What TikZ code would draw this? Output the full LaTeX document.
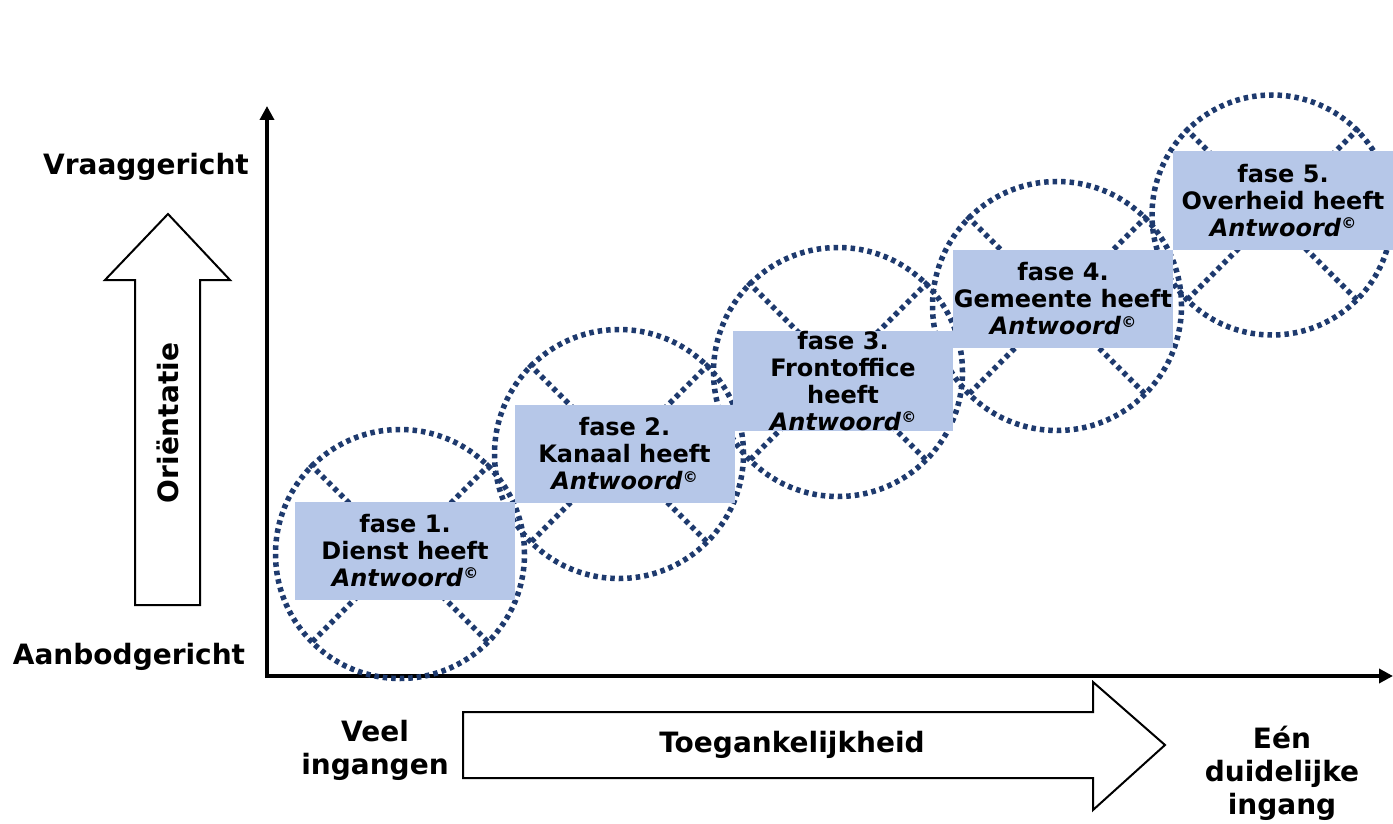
\documentclass[tikz,border=0pt]{standalone}
\usepackage{fontspec}
\setmainfont{DejaVu Sans}
\usetikzlibrary{arrows.meta}
\definecolor{dotblue}{RGB}{30,58,110}
\definecolor{boxblue}{RGB}{182,199,232}
\newcommand{\antw}{\textit{Antwoord}\raisebox{0.6ex}{\fontsize{15}{15}\selectfont ©}}

\begin{document}
\begin{tikzpicture}[x=1pt,y=-1pt,
  fase node/.style={rectangle, fill=boxblue, minimum width=220pt, minimum height=98pt, inner sep=0pt, align=center, font=\fontsize{24}{27}\selectfont\bfseries},
  ring node/.style={circle, draw=dotblue, line width=5.5pt, dash pattern=on 4.5pt off 4pt, minimum size=249pt, inner sep=0pt},
  ring cross/.style={draw=dotblue, line width=5.5pt, dash pattern=on 4.5pt off 4pt},
  side node/.style={align=center, font=\fontsize{28}{33}\selectfont\bfseries}]
  \useasboundingbox (0,0) rectangle (1393,824);

  % axes
  \coordinate (o) at (267,676);
  \coordinate (ytop) at (267,106);
  \coordinate (xend) at (1393,676);
  \draw[line width=4pt, {Triangle[length=14pt,width=14pt]}-{Triangle[length=14pt,width=14pt]}] (ytop) -- (o) -- (xend);

  % rings
  \node[ring node] (c1) at (400,554) {};
  \node[ring node] (c2) at (619,454) {};
  \node[ring node] (c3) at (838,372) {};
  \node[ring node] (c4) at (1057,306) {};
  \node[ring node, minimum size=240pt] (c5) at (1272,215) {};
  \foreach \i in {1,...,5}
    \path[ring cross] (c\i.45) -- (c\i.225) (c\i.135) -- (c\i.315);

  % phases
  \node[fase node] (f1) at (405,550.5) {fase 1.\\Dienst heeft\\\antw};
  \node[fase node] (f2) at (624.5,454) {fase 2.\\Kanaal heeft\\\antw};
  \node[fase node] (f3) at (843,381) {fase 3.\\Frontoffice\\heeft\\\antw};
  \node[fase node] (f4) at (1063,299) {fase 4.\\Gemeente heeft\\\antw};
  \node[fase node] (f5) at (1283,200.5) {fase 5.\\Overheid heeft\\\antw};

  % block arrows
  \draw[line width=2pt, fill=white] (135,605) -- (135,280) -- (105,280) -- (168,214) -- (230,280) -- (200,280) -- (200,605) -- cycle;
  \draw[line width=2pt, fill=white] (463,712) -- (1093,712) -- (1093,682) -- (1165,745) -- (1093,810) -- (1093,778) -- (463,778) -- cycle;

  % labels
  \node[side node] (vraag) at (146,167) {Vraaggericht};
  \node[side node] (aanbod) at (129,657) {Aanbodgericht};
  \node[side node, rotate=90] (ori) at (168,423) {Oriëntatie};
  \node[side node] (veel) at (375,750) {Veel\\ingangen};
  \node[side node] (toeg) at (792,745) {Toegankelijkheid};
  \node[side node] (een) at (1282,773) {Eén\\duidelijke\\ingang};
\end{tikzpicture}
\end{document}
